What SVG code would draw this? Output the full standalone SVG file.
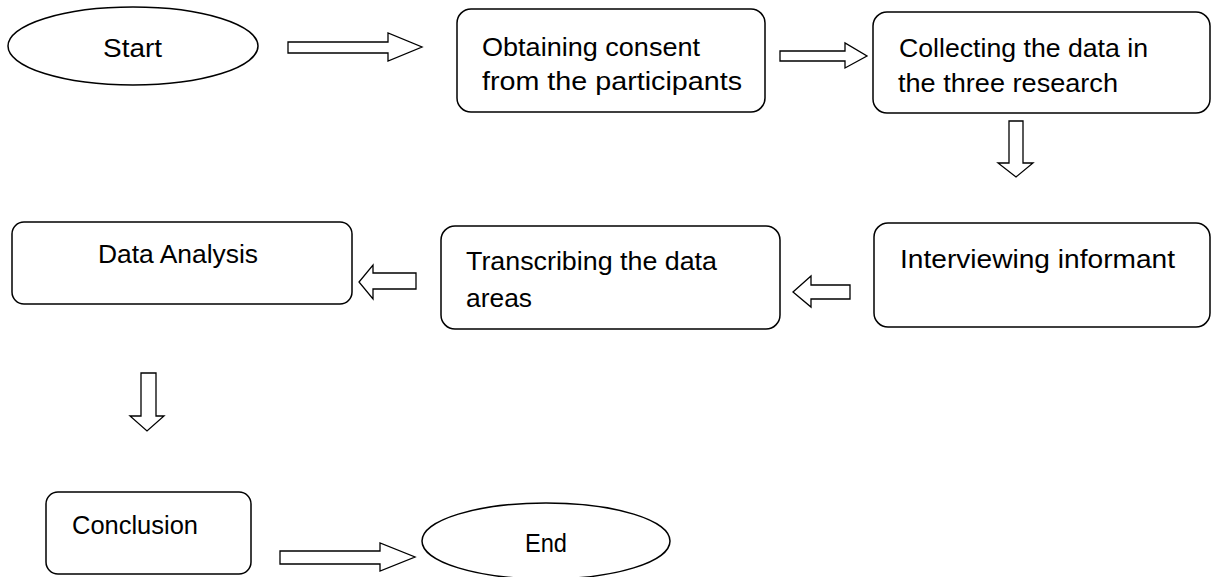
<svg xmlns="http://www.w3.org/2000/svg" width="1212" height="577" viewBox="0 0 1212 577">
<style>
.shape{fill:#fff;stroke:#000;stroke-width:1.5}
.arrow{fill:#fff;stroke:#000;stroke-width:1.3;stroke-linejoin:miter}
text{font-family:"Liberation Sans",Arial,sans-serif;font-size:25px;fill:#000}
</style>
<rect width="1212" height="577" fill="#fff"/>
<g id="start"><ellipse class="shape" cx="133" cy="46" rx="125" ry="39"/><text x="103" y="57" textLength="59" lengthAdjust="spacingAndGlyphs">Start</text></g>
<g id="obtaining"><rect class="shape" x="457" y="9" width="308" height="103" rx="14"/><text x="482" y="56" textLength="218" lengthAdjust="spacingAndGlyphs">Obtaining consent</text><text x="482" y="90" textLength="260" lengthAdjust="spacingAndGlyphs">from the participants</text></g>
<g id="collecting"><rect class="shape" x="873" y="12" width="337" height="101" rx="14"/><text x="899" y="57" textLength="249" lengthAdjust="spacingAndGlyphs">Collecting the data in</text><text x="898" y="92" textLength="220" lengthAdjust="spacingAndGlyphs">the three research</text></g>
<g id="interviewing"><rect class="shape" x="874" y="223" width="336" height="104" rx="14"/><text x="900" y="268" textLength="275" lengthAdjust="spacingAndGlyphs">Interviewing informant</text></g>
<g id="transcribing"><rect class="shape" x="441" y="226" width="339" height="103" rx="14"/><text x="466" y="270" textLength="251" lengthAdjust="spacingAndGlyphs">Transcribing the data</text><text x="466" y="307" textLength="66" lengthAdjust="spacingAndGlyphs">areas</text></g>
<g id="analysis"><rect class="shape" x="12" y="222" width="340" height="82" rx="12"/><text x="98" y="263" textLength="160" lengthAdjust="spacingAndGlyphs">Data Analysis</text></g>
<g id="conclusion"><rect class="shape" x="46" y="492" width="205" height="82" rx="12"/><text x="72" y="534" textLength="126" lengthAdjust="spacingAndGlyphs">Conclusion</text></g>
<g id="end"><ellipse class="shape" cx="546" cy="541" rx="124" ry="38"/><text x="525" y="552" textLength="42" lengthAdjust="spacingAndGlyphs">End</text></g>
<g id="connectors">
<polygon class="arrow" points="288,42 388,42 388,33 422,47 388,61 388,53 288,53"/>
<polygon class="arrow" points="780,51 845,51 845,43 867,56 845,68 845,61 780,61"/>
<polygon class="arrow" points="1009,121 1023,121 1023,163 1033,163 1016,177 998,163 1009,163"/>
<polygon class="arrow" points="850,285 811,285 811,276 793,292 811,307 811,299 850,299"/>
<polygon class="arrow" points="416,273 373,273 373,265 359,282 373,299 373,289 416,289"/>
<polygon class="arrow" points="141,373 156,373 156,416 164,416 147,431 130,416 141,416"/>
<polygon class="arrow" points="280,551 380,551 380,543 415,557 380,571 380,564 280,564"/>
</g>
</svg>
